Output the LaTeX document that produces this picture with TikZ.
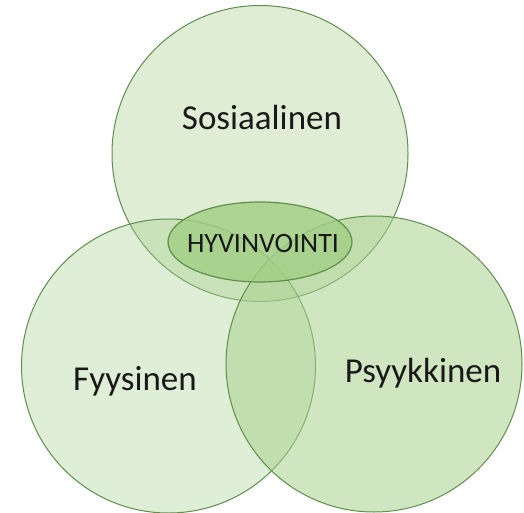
\documentclass[tikz,border=0pt]{standalone}
\usetikzlibrary{shapes.geometric}
\usepackage{fontspec}
\setmainfont{Carlito}
\definecolor{vgreen}{HTML}{A9D18E}
\definecolor{vline}{HTML}{5E8F4C}
\definecolor{vell}{HTML}{A2CE85}
\begin{document}
\begin{tikzpicture}[x=1pt,y=1pt,
  circ/.style={draw=vline, line width=1pt, fill=vgreen, circle, inner sep=0pt},
  lab/.style={font=\fontsize{35}{40}\selectfont, text=black!90}]
\useasboundingbox (0,0) rectangle (524,512);
\fill[white] (0,0) rectangle (524,512);
\node[circ, fill opacity=0.38, minimum size=296pt] (ctop) at (260,358.5) {};
\node[circ, fill opacity=0.36, minimum size=294pt] (cleft) at (168.5,146) {};
\node[circ, fill opacity=0.54, minimum size=296pt] (cright) at (374,148) {};
\node[draw=vline, line width=1.2pt, fill=vell, fill opacity=0.8, text opacity=1,
  ellipse, minimum width=184pt, minimum height=80pt, inner sep=0pt] (core) at (260,270) {};
\node[font=\fontsize{28}{32}\selectfont, text=black!90] (hv) at (263,268) {HYVINVOINTI};
\node[lab] (sos) at (262,395) {Sosiaalinen};
\node[lab] (fyy) at (135,131) {Fyysinen};
\node[lab] (psy) at (423,139) {Psyykkinen};
\end{tikzpicture}
\end{document}
